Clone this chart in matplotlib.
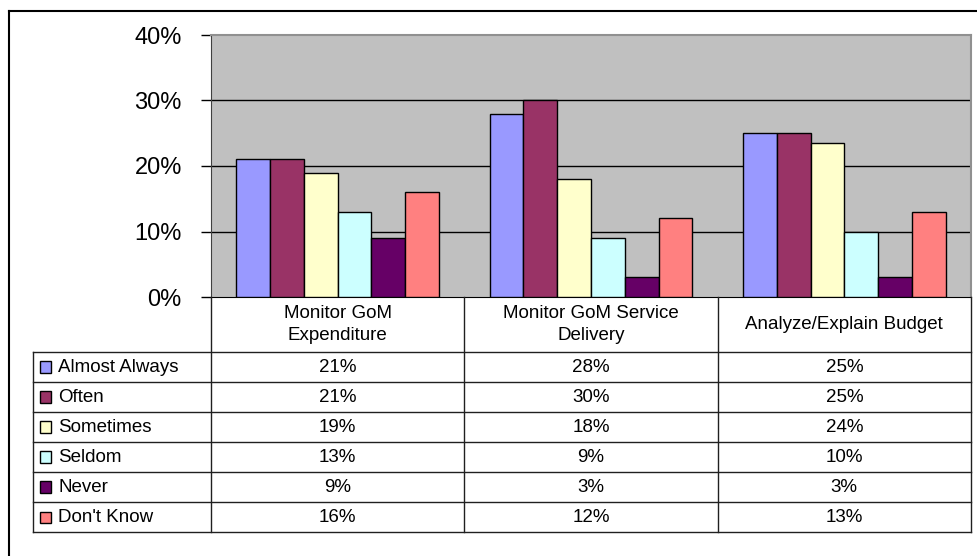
import matplotlib.pyplot as plt
from matplotlib.lines import Line2D
from matplotlib.patches import Rectangle
import numpy as np

plt.rcParams["font.family"] = ["Liberation Sans", "DejaVu Sans"]

# data
categories = ["Monitor GoM\nExpenditure", "Monitor GoM Service\nDelivery", "Analyze/Explain Budget"]
series = ["Almost Always", "Often", "Sometimes", "Seldom", "Never", "Don't Know"]
almost_always = [21, 28, 25]
often = [21, 30, 25]
sometimes = [19, 18, 23.5]
seldom = [13, 9, 10]
never = [9, 3, 3]
dont_know = [16, 12, 13]
table_labels = [
    ["21%", "28%", "25%"],
    ["21%", "30%", "25%"],
    ["19%", "18%", "24%"],
    ["13%", "9%", "10%"],
    ["9%", "3%", "3%"],
    ["16%", "12%", "13%"],
]
colors = ["#9999FF", "#993366", "#FFFFCC", "#CCFFFF", "#660066", "#FF8080"]
y_ticks = [0, 10, 20, 30, 40]

W, H = 977, 556
fig = plt.figure(figsize=(W / 100, H / 100), dpi=100)


def fx(x):
    return x / W


def fy(y):
    return 1 - y / H


# plot area in pixel terms
left, right, top, base = 211, 971, 35, 297
ax = fig.add_axes([fx(left), fy(base), fx(right - left), fy(top) - fy(base)])
ax.set_facecolor("#C0C0C0")

values = [almost_always, often, sometimes, seldom, never, dont_know]
n = len(series)
x = np.arange(len(categories))
bw = 1.0 / (n + 1.5)
for i, (vals, c) in enumerate(zip(values, colors)):
    offs = (i - (n - 1) / 2) * bw
    ax.bar(x + offs, vals, width=bw, color=c, edgecolor="black", linewidth=1.0, zorder=3)

ax.set_xlim(-0.5, len(categories) - 0.5)
ax.set_ylim(0, 40)
ax.set_yticks(y_ticks)
ax.set_yticklabels([f"{t}%" for t in y_ticks], fontsize=17)
ax.set_xticks([])
ax.tick_params(axis="y", length=7, width=1, pad=14, direction="out")
for t in y_ticks[1:-1]:
    ax.axhline(t, color="black", linewidth=1.0, zorder=1)
ax.spines["left"].set_color("#404040")
ax.spines["bottom"].set_color("black")
ax.spines["top"].set_color("#909090")
ax.spines["right"].set_color("#909090")
ax.spines["top"].set_linewidth(1.5)
ax.spines["right"].set_linewidth(1.5)

# data table under the chart
tab_left = 33
col_edges = [left + (right - left) * k / len(categories) for k in range(len(categories) + 1)]
head_bot = 352
row_h = 30
rows_bot = head_bot + row_h * n
line_kw = dict(color="#202020", linewidth=1.0, transform=fig.transFigure)
fs = 13.5

# vertical lines
for xe in col_edges:
    fig.add_artist(Line2D([fx(xe), fx(xe)], [fy(base), fy(rows_bot)], **line_kw))
fig.add_artist(Line2D([fx(tab_left), fx(tab_left)], [fy(head_bot), fy(rows_bot)], **line_kw))
# horizontal lines
for r in range(n + 1):
    yy = head_bot + r * row_h
    fig.add_artist(Line2D([fx(tab_left), fx(right)], [fy(yy), fy(yy)], **line_kw))

# header text
for k, cat in enumerate(categories):
    cx = (col_edges[k] + col_edges[k + 1]) / 2
    fig.text(fx(cx), fy((base + head_bot) / 2), cat, ha="center", va="center",
             fontsize=fs, linespacing=1.4)

# row labels with legend keys and values
for r, name in enumerate(series):
    cy = head_bot + r * row_h + row_h / 2
    key = 11
    fig.add_artist(Rectangle((fx(40), fy(cy + key / 2)), fx(key), fy(cy - key / 2) - fy(cy + key / 2),
                             facecolor=colors[r], edgecolor="black", linewidth=1.0,
                             transform=fig.transFigure))
    fig.text(fx(58), fy(cy), name, ha="left", va="center", fontsize=fs)
    for k in range(len(categories)):
        cx = (col_edges[k] + col_edges[k + 1]) / 2
        fig.text(fx(cx), fy(cy), table_labels[r][k], ha="center", va="center", fontsize=fs)

# outer chart frame
fig.add_artist(Line2D([fx(9), fx(W)], [fy(11), fy(11)], color="black", linewidth=1.5,
                      transform=fig.transFigure))
fig.add_artist(Line2D([fx(9), fx(9)], [fy(11), fy(H)], color="black", linewidth=1.5,
                      transform=fig.transFigure))

fig.savefig("out.png", dpi=100)
